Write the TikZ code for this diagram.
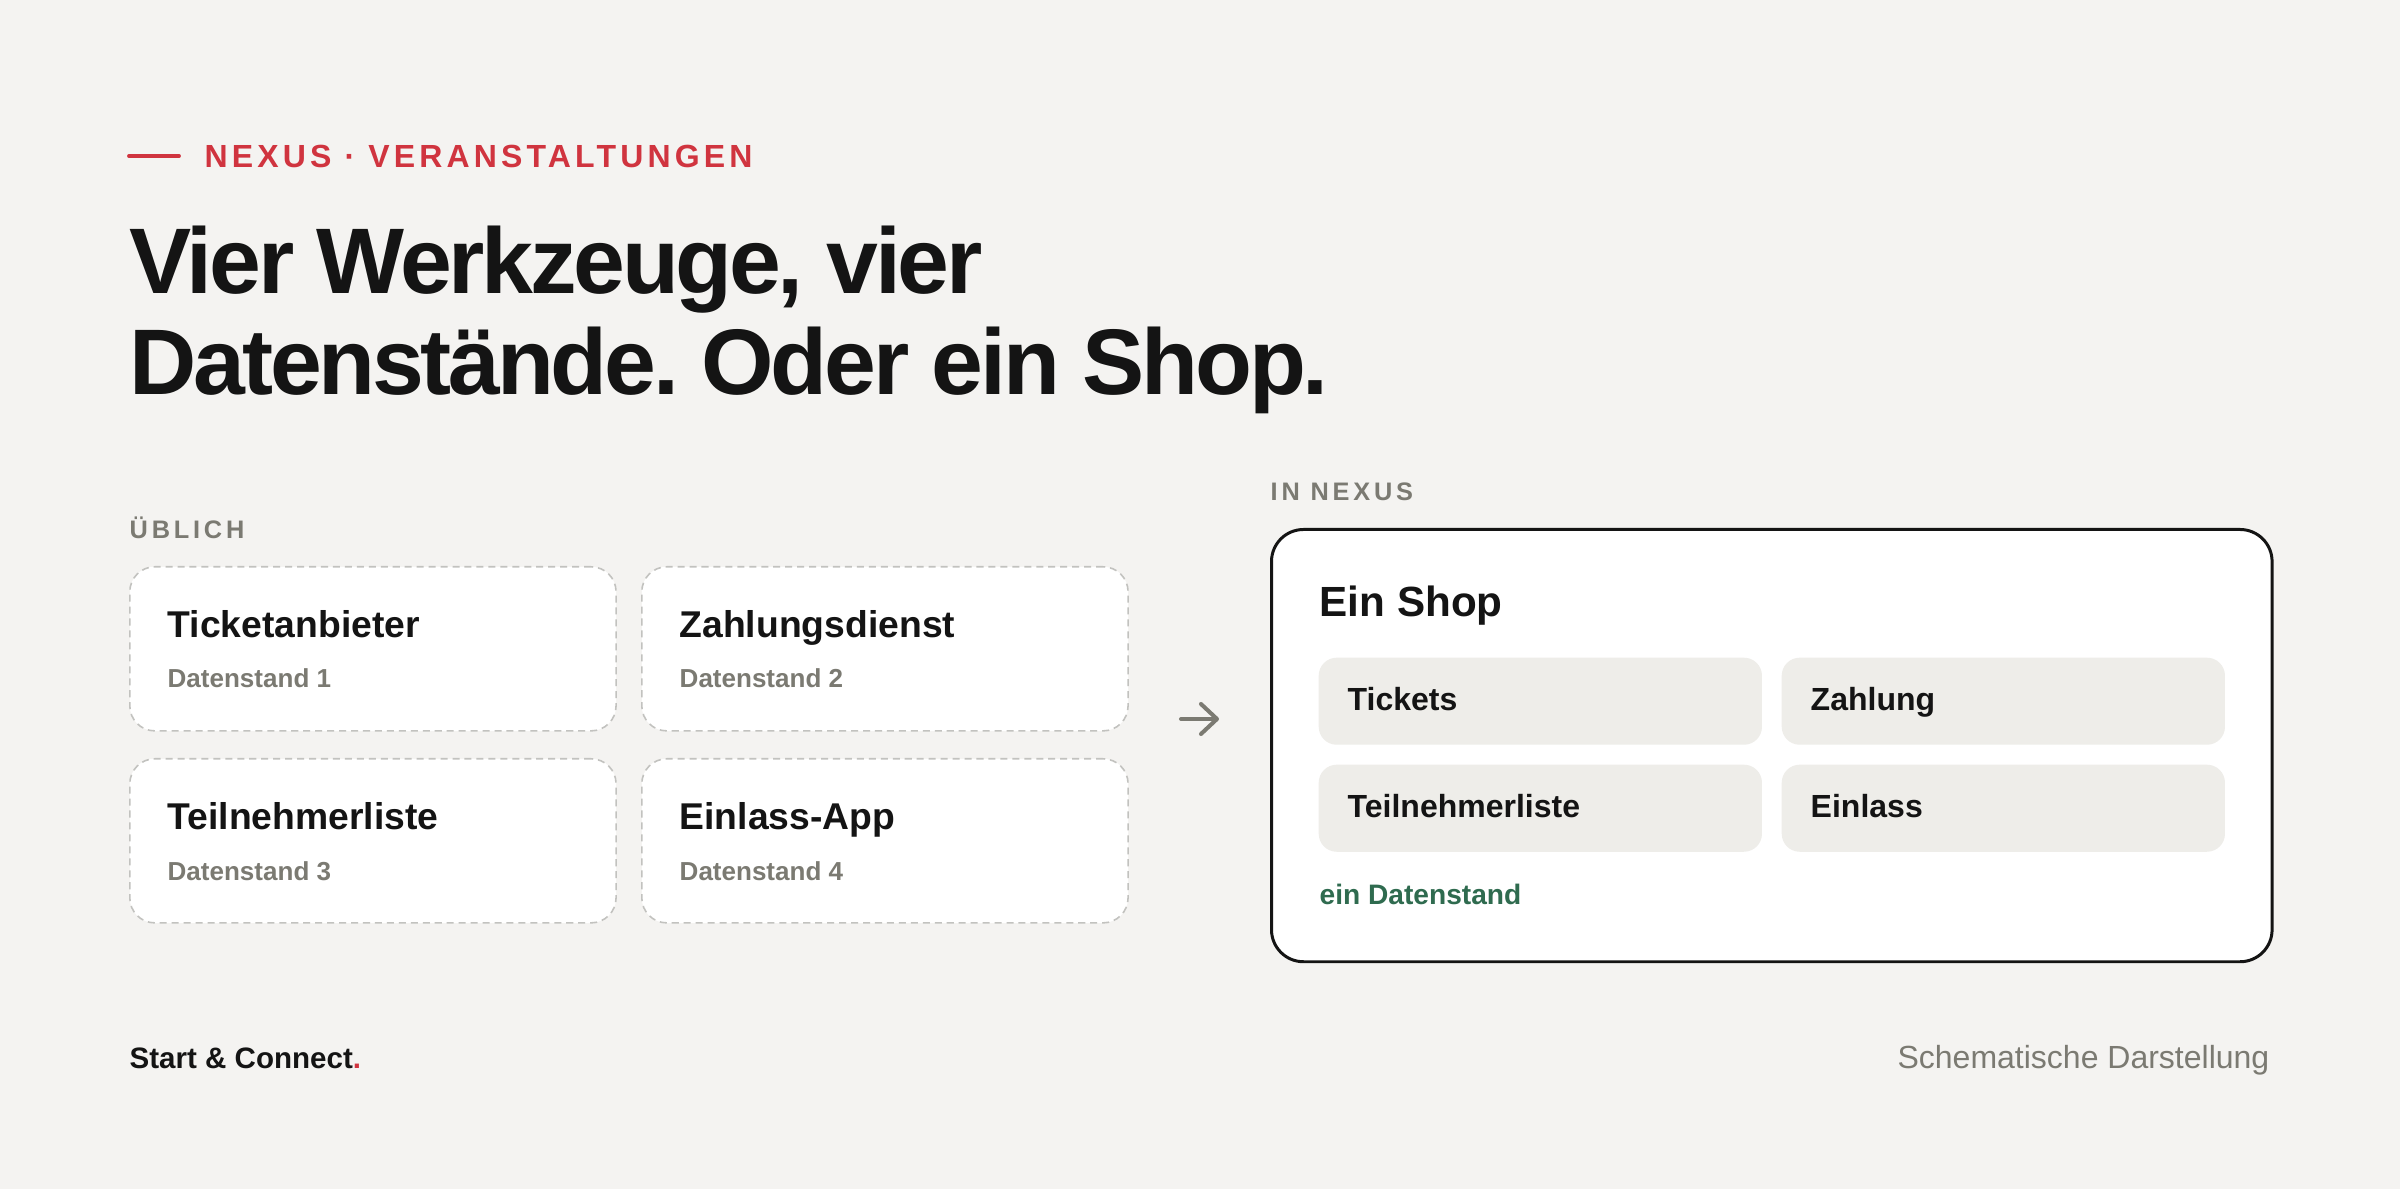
\documentclass[tikz,border=0pt]{standalone}
\usepackage{fontspec}
\setmainfont{Liberation Sans}
\usetikzlibrary{positioning,calc,arrows.meta}
\definecolor{paper}{HTML}{F4F3F1}
\definecolor{nexred}{HTML}{D0343F}
\definecolor{ink}{HTML}{141414}
\definecolor{mute}{HTML}{7B7A72}
\definecolor{tilegray}{HTML}{EEEDE9}
\definecolor{dashgray}{HTML}{C2C2BF}
\definecolor{okgreen}{HTML}{2F6B4F}
\frenchspacing
\tikzset{
  txt/.style={inner sep=0pt, anchor=base west, text=ink},
  kicker/.style={txt, text=nexred, font=\fontsize{9.1}{11}\selectfont\bfseries\addfontfeature{LetterSpace=13}},
  headline/.style={txt, font=\fontsize{26.5}{29}\selectfont\bfseries\addfontfeature{LetterSpace=-3.5}},
  section/.style={txt, text=mute, font=\fontsize{7.2}{9}\selectfont\bfseries\addfontfeature{LetterSpace=15}},
  oldcard/.style={draw=dashgray, line width=0.45pt, dash pattern=on 2pt off 1.4pt, fill=white, rounded corners=0.25cm, anchor=north west, minimum width=4.86cm, minimum height=1.64cm, inner sep=0pt},
  cardtitle/.style={txt, font=\fontsize{10.6}{12}\selectfont\bfseries},
  cardsub/.style={txt, text=mute, font=\fontsize{7.4}{9}\selectfont\bfseries},
  tile/.style={fill=tilegray, rounded corners=0.18cm, anchor=north west, minimum width=4.43cm, minimum height=0.87cm, inner sep=0pt},
  tiletext/.style={txt, font=\fontsize{9.1}{11}\selectfont\bfseries}
}
\begin{document}
\begin{tikzpicture}[x=0.01cm,y=-0.01cm]
\useasboundingbox[fill=paper] (0,0) rectangle (2400,1189);

% kicker and headline
\draw[nexred, line width=1.1pt, line cap=round] (129,156) -- (179,156);
\node[kicker] (kick) at (204,168) {NEXUS · VERANSTALTUNGEN};
\node[headline] (title1) at (129,294) {Vier Werkzeuge, vier};
\node[headline] (title2) at (129,395) {Datenstände. Oder ein Shop.};

% left side: four tools
\node[section] (usual) at (129,539) {ÜBLICH};
\node[oldcard] (ticket) at (129,566) {};
\node[oldcard] (pay) at (641,566) {};
\node[oldcard] (guests) at (129,758) {};
\node[oldcard] (entry) at (641,758) {};
\node[cardtitle] at ($(ticket.north west)+(38,72)$) {Ticketanbieter};
\node[cardsub] at ($(ticket.north west)+(38,122)$) {Datenstand 1};
\node[cardtitle] at ($(pay.north west)+(38,72)$) {Zahlungsdienst};
\node[cardsub] at ($(pay.north west)+(38,122)$) {Datenstand 2};
\node[cardtitle] at ($(guests.north west)+(38,72)$) {Teilnehmerliste};
\node[cardsub] at ($(guests.north west)+(38,122)$) {Datenstand 3};
\node[cardtitle] at ($(entry.north west)+(38,72)$) {Einlass-App};
\node[cardsub] at ($(entry.north west)+(38,122)$) {Datenstand 4};

% arrow
\coordinate (arrfrom) at (1181,719);
\coordinate (arrto) at (1219,719);
\draw[mute, line width=1.15pt, line cap=round, -{Straight Barb[length=1.6mm, width=3.0mm, round]}] (arrfrom) -- (arrto);

% right side: one shop
\node[section] (innexus) at (1270,501) {IN NEXUS};
\node[draw=ink, line width=0.85pt, fill=white, rounded corners=0.32cm, anchor=north west, minimum width=10cm, minimum height=4.32cm, inner sep=0pt] (shop) at (1270,528) {};
\node[txt, font=\fontsize{12}{14}\selectfont\bfseries] (shoptitle) at ($(shop.north west)+(49,89)$) {Ein Shop};
\node[tile] (tickets) at (1318,657) {};
\node[tile] (zahlung) at (1781,657) {};
\node[tile] (liste) at (1318,764) {};
\node[tile] (einlass) at (1781,764) {};
\node[tiletext] at ($(tickets.north west)+(29,54)$) {Tickets};
\node[tiletext] at ($(zahlung.north west)+(29,54)$) {Zahlung};
\node[tiletext] at ($(liste.north west)+(29,54)$) {Teilnehmerliste};
\node[tiletext] at ($(einlass.north west)+(29,54)$) {Einlass};
\node[txt, text=okgreen, font=\fontsize{8}{10}\selectfont\bfseries] (onestate) at ($(shop.north west)+(49,377)$) {ein Datenstand};

% footer
\node[txt, font=\fontsize{8.4}{10}\selectfont\bfseries] (brand) at (129,1068) {Start \& Connect\textcolor{nexred}{.}};
\node[txt, anchor=base east, text=mute, font=\fontsize{9.1}{11}\selectfont] (note) at (2270,1068) {Schematische Darstellung};
\end{tikzpicture}
\end{document}
